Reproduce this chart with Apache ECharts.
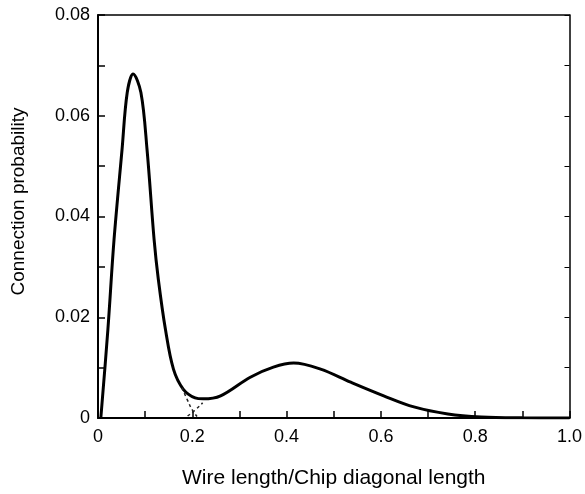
<!DOCTYPE html>
<html><head><meta charset="utf-8">
<script src="https://cdn.jsdelivr.net/npm/echarts@6/dist/echarts.min.js"></script>
<style>html,body{margin:0;padding:0;background:#fff}#c{width:585px;height:494px}</style>
</head><body><div id="c"></div>
<script>
const xs = [0.006, 0.021, 0.034, 0.051, 0.062, 0.0745, 0.091, 0.104, 0.119, 0.128, 0.143, 0.160, 0.181, 0.206, 0.223, 0.26, 0.323, 0.372, 0.415, 0.472, 0.536, 0.606, 0.67, 0.742, 0.813, 0.9, 1.0];
const ys = [0, 0.0176, 0.0354, 0.0533, 0.0646, 0.0683, 0.0646, 0.0533, 0.0354, 0.0275, 0.0176, 0.0097, 0.0057, 0.0040, 0.0038, 0.0044, 0.0081, 0.0101, 0.0109, 0.0097, 0.0071, 0.0044, 0.0022, 0.0008, 0.0002, 0.00003, 0];
const tailXs = [0.178, 0.19, 0.20, 0.21];
const tailYs = [0.0060, 0.0035, 0.0016, 0.0003];
const riseXs = [0.19, 0.205, 0.222];
const riseYs = [0.0004, 0.0015, 0.0030];
const xTicks = ['0', '0.2', '0.4', '0.6', '0.8', '1.0'];
const yTicks = ['0', '0.02', '0.04', '0.06', '0.08'];
const xName = 'Wire length/Chip diagonal length';
const yName = 'Connection probability';

const zip = (a, b) => a.map((v, i) => [v, b[i]]);
const font = 'Liberation Sans, Arial, sans-serif';
const chart = echarts.init(document.getElementById('c'));
chart.setOption({
  animation: false,
  grid: {left: 98, right: 15, top: 15, bottom: 75},
  xAxis: [{
    type: 'value', min: 0, max: 1, interval: 0.1,
    name: xName, nameLocation: 'middle', nameGap: 50,
    nameTextStyle: {color: '#000', fontSize: 21, fontFamily: font},
    axisLine: {lineStyle: {color: '#000', width: 2}},
    axisTick: {inside: true, length: 7, lineStyle: {color: '#000', width: 1.5}},
    axisLabel: {color: '#000', fontSize: 18, fontFamily: font, margin: 10,
      formatter: v => { const k = Math.round(v * 10); return k % 2 === 0 ? xTicks[k / 2] : ''; }},
    splitLine: {show: false}
  }, {
    type: 'value', min: 0, max: 1, position: 'top',
    axisLine: {show: true, onZero: false, lineStyle: {color: '#000', width: 1.5}},
    axisTick: {show: false}, axisLabel: {show: false}, splitLine: {show: false}
  }],
  yAxis: [{
    type: 'value', min: 0, max: 0.08, interval: 0.01,
    name: yName, nameLocation: 'middle', nameGap: 70,
    nameTextStyle: {color: '#000', fontSize: 19, fontFamily: font, padding: [0, 0, 0, 30]},
    axisLine: {show: true, lineStyle: {color: '#000', width: 2}},
    axisTick: {show: true, inside: true, length: 7, lineStyle: {color: '#000', width: 1.5}},
    axisLabel: {color: '#000', fontSize: 18, fontFamily: font, margin: 8,
      formatter: v => { const k = Math.round(v * 100); return k % 2 === 0 ? yTicks[k / 2] : ''; }},
    splitLine: {show: false}
  }, {
    type: 'value', min: 0, max: 0.08, interval: 0.01, position: 'right',
    axisLine: {show: true, onZero: false, lineStyle: {color: '#000', width: 1.5}},
    axisTick: {show: true, inside: true, length: 5, lineStyle: {color: '#000', width: 1}},
    axisLabel: {show: false}, splitLine: {show: false}
  }],
  series: [{
    type: 'line', data: zip(xs, ys), smooth: 0.35, symbol: 'none',
    lineStyle: {color: '#000', width: 3}
  }, {
    type: 'line', data: zip(tailXs, tailYs), smooth: true, symbol: 'none',
    lineStyle: {color: '#222', width: 1.5, type: [3, 3]}
  }, {
    type: 'line', data: zip(riseXs, riseYs), smooth: true, symbol: 'none',
    lineStyle: {color: '#222', width: 1.5, type: [3, 3]}
  }]
});
</script></body></html>
